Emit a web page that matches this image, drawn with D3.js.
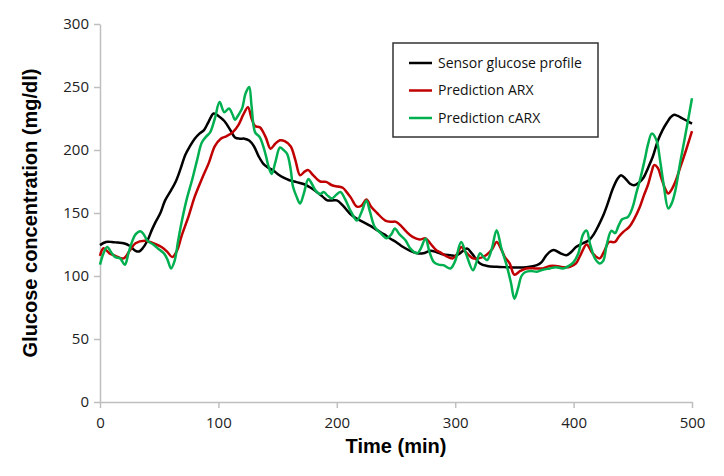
<!DOCTYPE html>
<html>
<head>
<meta charset="utf-8">
<script src="https://cdn.jsdelivr.net/npm/d3@7"></script>
<style>
	body { margin: 0; background: #fff; }
	.tick text { font-family: "Open Sans", sans-serif; font-size: 15px; fill: #222; }
	.axis path, .axis line { stroke: #bfbfbf; stroke-width: 1.5; }
	.line { fill: none; stroke-width: 2.5; }
</style>
</head>
<body>
<div id="chart"></div>
<script>
// Sensor glucose profile (time in min, mg/dl)
var tSensor = [0, 5, 10, 15, 20, 25, 30, 33, 36, 40, 44, 47, 51, 55, 60, 64, 68, 72, 76, 80, 84, 88, 92, 96,
	100, 105, 110, 114, 118, 122, 126, 130, 134, 138, 142, 146, 150, 155, 160, 166, 172, 178, 183, 188, 192, 196,
	200, 205, 211, 216, 222, 228, 234, 240, 245, 250, 256, 262, 268, 273, 279, 284, 290, 296,
	300, 304, 310, 314, 321, 327, 335, 343, 352, 360, 369, 373, 377, 381, 384, 389, 394, 398,
	402, 408, 413, 417, 421, 425, 429, 433, 437, 440, 444, 448, 451, 455, 459, 463, 467, 471, 475, 479, 482, 485, 488, 492, 496, 500];
var sensor = [124.5, 127, 127, 126.5, 126, 124, 120, 119.5, 122, 128, 137, 143, 150, 160, 168, 175, 185, 196, 203, 209, 213, 216, 223, 229,
	227, 223, 216, 210, 209, 209, 207.5, 203, 195, 189, 186, 184, 181, 178, 176, 174.5, 173, 170, 166.7, 163, 160, 160,
	160, 156, 149.6, 146, 143, 140, 136.4, 133, 129.8, 127, 123, 120, 118, 118, 120, 119, 117, 116.5,
	116, 118, 121.8, 118, 110, 108, 107.3, 107, 106.8, 107, 108.6, 111, 116.5, 120, 120.5, 118, 116.5, 119,
	123, 126, 128.4, 133, 140, 148, 158, 169, 177, 180, 177, 173, 172, 174, 178, 186, 195, 207, 215.6, 222, 226, 228, 227, 225, 223, 221];

// Prediction ARX
var tArx = [0, 3, 8, 13, 20, 25, 30, 38, 45, 52, 57, 61, 65, 69, 75, 80, 86, 92, 97,
	102, 107, 112, 117, 121, 125, 128, 131, 135, 140, 144, 148, 152, 156, 161, 165, 169, 173, 176, 180, 186, 191, 196,
	201, 205, 208, 212, 217, 221, 225, 229, 234, 241, 246, 250, 255, 259, 264, 270, 275, 279, 284, 287, 292, 298,
	302, 305, 309, 315, 320, 326, 331, 335, 339, 342, 346, 350, 355, 360, 368, 374, 380, 385, 391, 397,
	402, 406, 411, 416, 422, 426, 430, 435, 438, 442, 447, 451, 456, 459, 463, 466, 468, 471, 474, 477, 480, 483, 486, 490, 495, 500];
var arx = [116, 122, 118, 116, 114, 120, 126, 128, 126, 123, 119, 115, 120, 132, 148, 163, 177, 190, 203,
	209, 211, 214, 220, 228, 234, 225, 219, 218, 210, 201, 205, 207.7, 207, 203, 192, 180, 183, 184, 180, 175, 174.7, 172,
	171, 170, 167, 162, 155, 156, 160.7, 155, 150, 144, 143, 143, 139, 135, 131, 129, 129.8, 125.8, 120.5, 119, 116, 114,
	118, 123, 119, 114, 114, 116.5, 121, 127, 121, 115, 110, 101, 104, 106, 106, 106, 108, 108, 107, 107.3,
	110, 117, 125, 118, 114, 120, 127, 127, 131, 135, 139, 145, 155, 163, 173, 183, 188, 186, 178, 170, 165.5, 169, 175, 186, 200, 215];

// Prediction cARX
var tCarx = [0, 3, 6, 10, 13, 17, 21, 24, 27, 30, 34, 37, 40, 45, 50, 54, 57, 60, 63, 66, 69, 73, 78, 82, 86, 90, 93, 97,
	101, 105, 109, 112, 114, 117, 120, 123, 126, 128, 131, 135, 140, 142, 145, 148, 152, 155, 158, 161, 163, 166, 169, 172, 176, 179, 182, 186, 189, 192, 196, 199,
	203, 207, 212, 217, 221, 225, 228, 232, 237, 242, 246, 249, 253, 258, 262, 268, 271, 275, 278, 282, 286, 290, 296,
	300, 305, 309, 315, 318, 321, 324, 327, 331, 335, 339, 343, 347, 350, 353, 356, 359, 364, 369, 374, 380, 385, 391, 396,
	400, 404, 408, 411, 414, 418, 422, 425, 428, 432, 435, 438, 441, 446, 450, 453, 456, 460, 463, 466, 470, 473, 476, 480, 483, 486, 490, 495, 500];
var carx = [109, 118, 123, 118, 115, 114, 109, 118, 127, 133, 135.6, 133, 128, 125, 121, 118, 113, 106, 112, 128, 143, 160, 177, 192, 206, 211, 214, 225,
	238, 230, 233, 228, 224, 228, 233, 245, 250, 235, 214, 210, 196, 188, 181, 190, 202, 200, 197, 185, 171, 163, 157.5, 165, 177, 173, 168, 165, 166.7, 164, 161.5, 164,
	166.7, 161, 151, 144, 151, 160, 151, 139, 134, 130, 133, 137.7, 133, 128.4, 122, 118, 122, 129.8, 120, 111, 109, 108.6, 106,
	112, 127, 118, 104.6, 111, 118, 115, 112.6, 122, 136.4, 122, 110, 95, 82, 90, 100, 103, 104, 103.3, 105, 106, 107, 106, 108,
	111, 118, 133, 136, 125, 114, 110, 112, 125, 136, 134, 140, 145, 147, 155, 166, 176, 192, 205, 213, 207.7, 192, 173, 153.6, 158, 168, 190, 215, 241];

var xTicks = [0, 100, 200, 300, 400, 500];
var yTicks = [0, 50, 100, 150, 200, 250, 300];

var series = [
	{name: "Sensor glucose profile", t: tSensor, v: sensor, color: "#000000"},
	{name: "Prediction ARX", t: tArx, v: arx, color: "#c00000"},
	{name: "Prediction cARX", t: tCarx, v: carx, color: "#00b050"}
];

var W = 724, H = 476;
var margin = {top: 24, right: 32, bottom: 74, left: 100},
	width = W - margin.left - margin.right,
	height = H - margin.top - margin.bottom;

var x = d3.scaleLinear().domain([0, 500]).range([0, width]);
var y = d3.scaleLinear().domain([0, 300]).range([height, 0]);

var svg = d3.select("#chart").append("svg")
		.attr("width", W)
		.attr("height", H)
	.append("g")
		.attr("transform", "translate(" + margin.left + "," + margin.top + ")");

// axes
svg.append("g")
	.attr("class", "axis")
	.attr("transform", "translate(0," + height + ")")
	.call(d3.axisBottom(x).tickValues(xTicks).tickSize(6).tickPadding(9).tickSizeOuter(0));
svg.append("g")
	.attr("class", "axis")
	.call(d3.axisLeft(y).tickValues(yTicks).tickSize(6).tickPadding(5).tickSizeOuter(0));

// lines
var line = d3.line()
	.curve(d3.curveCatmullRom.alpha(0.5))
	.x(function(d){ return x(d[0]); })
	.y(function(d){ return y(d[1]); });

series.forEach(function(s){
	var pts = s.t.map(function(t, i){ return [t, s.v[i]]; });
	svg.append("path")
		.datum(pts)
		.attr("class", "line")
		.style("stroke", s.color)
		.attr("d", line);
});

// axis titles
svg.append("text")
	.attr("x", width / 2)
	.attr("y", height + 51)
	.attr("text-anchor", "middle")
	.style("font-family", "Arial, 'Liberation Sans', sans-serif")
	.style("font-weight", "bold")
	.style("font-size", "20px")
	.text("Time (min)");
svg.append("text")
	.attr("transform", "translate(-63," + (height / 2) + ") rotate(-90)")
	.attr("text-anchor", "middle")
	.style("font-family", "Arial, 'Liberation Sans', sans-serif")
	.style("font-weight", "bold")
	.style("font-size", "20px")
	.text("Glucose concentration (mg/dl)");

// legend
var lg = svg.append("g").attr("transform", "translate(" + (393 - margin.left) + "," + (43 - margin.top) + ")");
lg.append("rect")
	.attr("width", 205).attr("height", 94)
	.attr("fill", "#fff").attr("stroke", "#333").attr("stroke-width", 1.5);
series.forEach(function(s, i){
	var yy = 20 + i * 27.5;
	lg.append("line")
		.attr("x1", 16).attr("x2", 39).attr("y1", yy).attr("y2", yy)
		.attr("stroke", s.color).attr("stroke-width", 2.5);
	lg.append("text")
		.attr("x", 45).attr("y", yy)
		.attr("dy", "0.35em")
		.style("font-family", "'Open Sans', sans-serif")
		.style("font-size", "14px")
		.style("fill", "#111")
		.text(s.name);
});
</script>
</body>
</html>
